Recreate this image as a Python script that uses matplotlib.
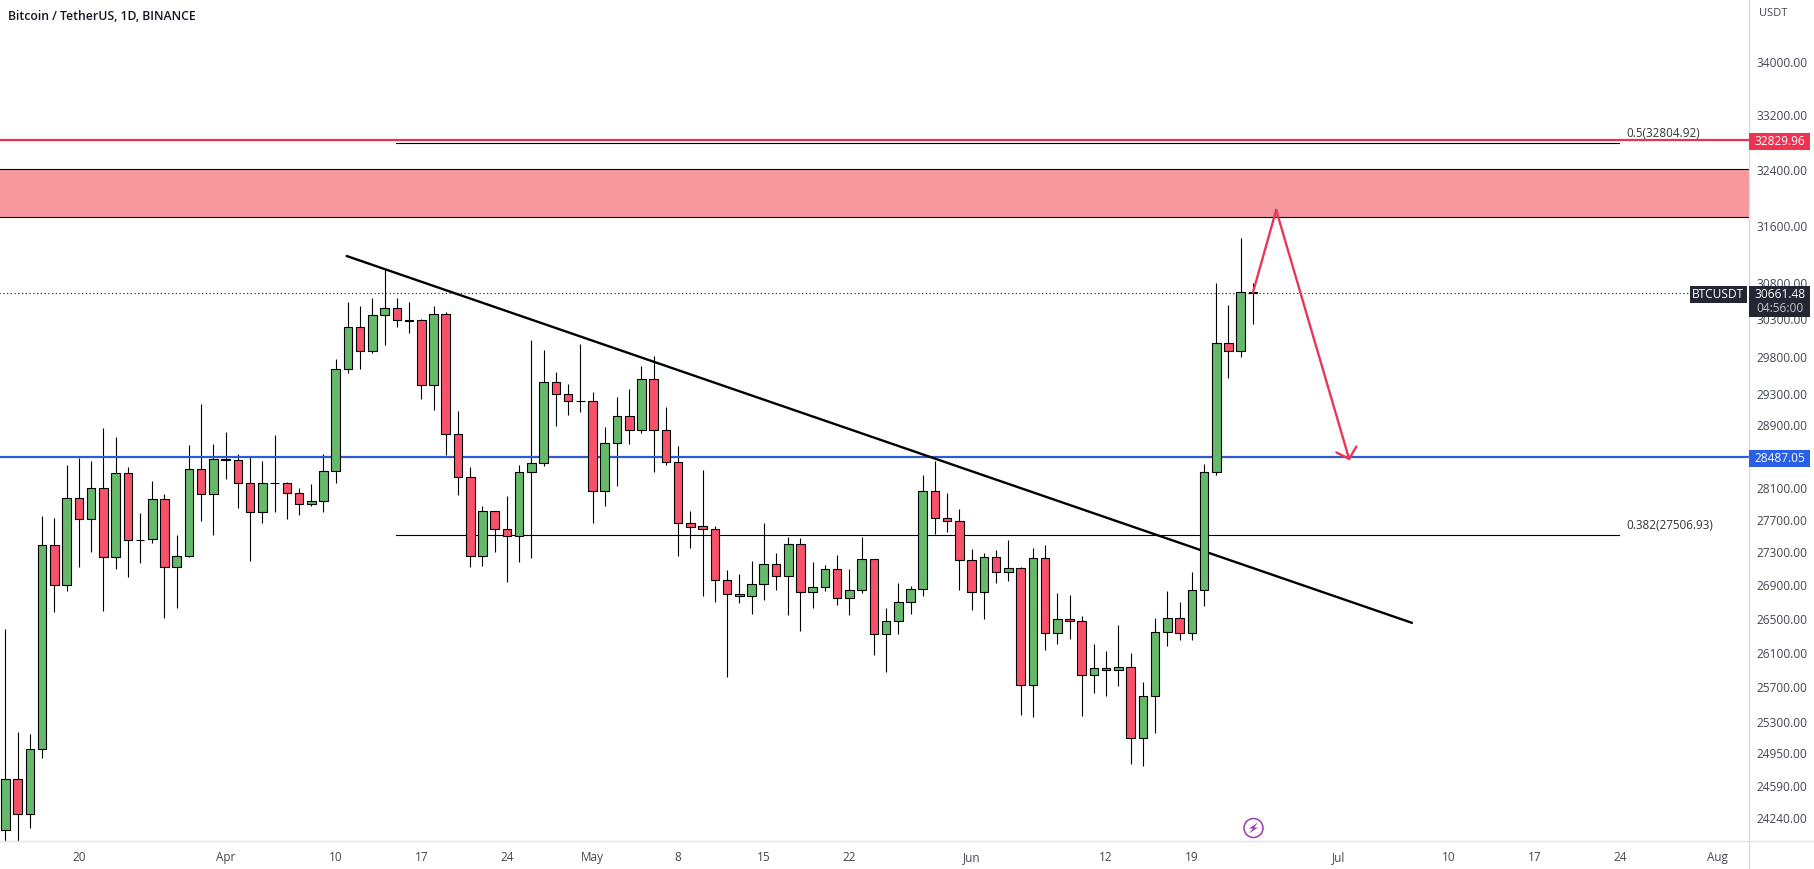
import numpy as np
import pandas as pd
import matplotlib
matplotlib.use("Agg")
import matplotlib.pyplot as plt
from matplotlib.patches import Circle, Polygon

plt.rcParams['font.family'] = ['Open Sans', 'DejaVu Sans']

W, H = 1815, 869
PLOT_R, PLOT_B = 1749, 841

start_date = '2023-03-14'

# daily candles, one value per day from start_date
opens = [24108, 24665, 24281, 24999, 27388, 26902, 27970, 27709, 28096, 27241,
         28285, 27456, 27461, 27958, 27120, 27254, 28336, 28021, 28462, 28450,
         28159, 27796, 28159, 28159, 28033, 27896, 27933, 28310, 29632, 30194,
         29872, 30357, 30452, 30289, 30289, 29421, 30371, 28782, 28234, 27254,
         27808, 27585, 27498, 28298, 28412, 29460, 29302, 29218, 29218, 28058,
         28666, 29015, 28834, 29500, 28834, 28424, 27659, 27622, 27592, 26962,
         26794, 26766, 26910, 27156, 27018, 27400, 26815, 26874, 27096, 26746,
         26842, 27217, 26318, 26468, 26698, 26854, 28058, 27729, 27684, 27205,
         26818, 27241, 27059, 27108, 25725, 27229, 26330, 26496, 26472, 25840,
         25921, 25898, 25933, 25122, 25598, 26342, 26508, 26330, 26842, 28298,
         29980, 29872, 30668]
closes = [24665, 24281, 24999, 27388, 26902, 27970, 27709, 28096, 27241, 28285,
          27449, 27449, 27958, 27120, 27254, 28336, 28021, 28462, 28450, 28159,
          27796, 28159, 28155, 28033, 27896, 27933, 28310, 29632, 30194, 29872,
          30357, 30452, 30289, 30285, 29421, 30371, 28782, 28234, 27254, 27808,
          27585, 27498, 28298, 28412, 29460, 29302, 29218, 29214, 28058, 28666,
          29015, 28834, 29500, 28834, 28424, 27659, 27617, 27592, 26962, 26790,
          26766, 26915, 27156, 27018, 27400, 26815, 26878, 27096, 26746, 26842,
          27217, 26318, 26472, 26698, 26854, 28058, 27729, 27684, 27205, 26818,
          27241, 27059, 27108, 25725, 27229, 26330, 26496, 26468, 25840, 25921,
          25898, 25933, 25122, 25598, 26342, 26508, 26330, 26842, 28298, 29980,
          29872, 30668, 30661.48]
highs = [26381, 25193, 25167, 27750, 27721, 28390, 28475, 28441, 28864, 28751,
         28361, 27783, 28184, 28021, 27514, 28645, 29175, 28657, 28812, 28526,
         28496, 28437, 28773, 28171, 28096, 28150, 28530, 29765, 30538, 30484,
         30589, 30988, 30589, 30538, 30302, 30484, 30402, 29080, 28361, 27874,
         27810, 27999, 28390, 30023, 29889, 29593, 29438, 29969, 29329, 28876,
         29263, 29368, 29676, 29809, 29136, 28628, 27812, 28327, 27626, 27087,
         27039, 27196, 27666, 27294, 27493, 27474, 27184, 27148, 27269, 27100,
         27493, 27217, 26631, 26930, 26890, 28264, 28445, 28041, 27833, 27343,
         27290, 27330, 27453, 27120, 27355, 27392, 26810, 26786, 26535, 26205,
         26115, 26429, 26103, 25763, 26508, 26834, 26702, 27059, 28399, 30800,
         30496, 31428, 30800]
lows = [23993, 23993, 24126, 24894, 26575, 26826, 27127, 27310, 26598, 27103,
        27006, 27164, 27419, 26512, 26634, 27240, 27687, 27518, 28217, 27849,
        27200, 27666, 27803, 27713, 27766, 27866, 27803, 28166, 29587, 29640,
        29853, 29956, 30203, 30122, 29244, 29097, 28521, 28012, 27127, 27136,
        27310, 26942, 27184, 27233, 28381, 28893, 29032, 29071, 27666, 27874,
        28117, 28657, 28803, 28305, 28394, 27257, 27355, 26774, 26702, 25813,
        26690, 26559, 26726, 26846, 26547, 26361, 26634, 26826, 26666, 26539,
        26802, 26078, 25871, 26325, 26551, 26766, 27527, 27555, 26838, 26607,
        26500, 26922, 26958, 25388, 25355, 26127, 26208, 26267, 25366, 25636,
        25605, 25717, 24827, 24805, 25174, 26181, 26255, 26255, 26658, 28256,
        29522, 29797, 30244]

y_ticks = [34000, 33200, 32400, 31600, 30800, 30300, 29800, 29300, 28900, 28100,
           27700, 27300, 26900, 26500, 26100, 25700, 25300, 24950, 24590, 24240]
x_tick_dates = ['2023-03-20', '2023-04-01', '2023-04-10', '2023-04-17', '2023-04-24',
                '2023-05-01', '2023-05-08', '2023-05-15', '2023-05-22', '2023-06-01',
                '2023-06-12', '2023-06-19', '2023-07-01', '2023-07-10', '2023-07-17',
                '2023-07-24', '2023-08-01']
x_tick_labels = ['20', 'Apr', '10', '17', '24', 'May', '8', '15', '22', 'Jun',
                 '12', '19', 'Jul', '10', '17', '24', 'Aug']

last_price = 30661.48
red_level = 32829.96
blue_level = 28487.05
fib_levels = [32790, 27506.93]
fib_labels = ['0.5(32804.92)', '0.382(27506.93)']
zone_low, zone_high = 31718, 32406
fib_start_x = 31.9
fib_stop_x = 131.9

trend_x = [27.9, 115.0]
trend_y = [31172, 26452]
path_x = [102, 103.9, 109.9]
path_y = [30668, 31820, 28447]


def day_index(dates):
    return (pd.to_datetime(dates) - pd.Timestamp(start_date)).days.to_numpy()


opens = np.array(opens, dtype=float)
closes = np.array(closes, dtype=float)
highs = np.array(highs, dtype=float)
lows = np.array(lows, dtype=float)
x = np.arange(len(opens))

fig = plt.figure(figsize=(W / 100, H / 100), dpi=100, facecolor='white')
ax = fig.add_axes([0, (H - PLOT_B) / H, PLOT_R / W, PLOT_B / H])
ax.set_xlim(-5.5 / 12.23, (PLOT_R - 5.5) / 12.23)
ax.set_yscale('log')
ax.set_ylim(23991, 34957)

up = closes >= opens
green, red = '#66b96a', '#f8526a'
ax.vlines(x, lows, highs, color='black', lw=0.8, zorder=1)
ax.bar(x, np.maximum(np.abs(closes - opens), 1), bottom=np.minimum(opens, closes), width=0.7,
       color=np.where(up, green, red), edgecolor='black', lw=0.8, zorder=3)

# levels and drawings
ax.axhspan(zone_low, zone_high, facecolor='#f7989f', edgecolor='none', zorder=1)
ax.axhline(zone_low, color='black', lw=0.8, zorder=1)
ax.axhline(zone_high, color='black', lw=0.8, zorder=1)
ax.axhline(red_level, color='#e8324f', lw=1.6, zorder=2)
ax.axhline(blue_level, color='#2f5bd0', lw=1.6, zorder=2)
ax.plot([-1, 137.6], [last_price, last_price], color='#333333', lw=0.9, ls=(0, (1, 2)), zorder=1)
for lv, label in zip(fib_levels, fib_labels):
    ax.plot([fib_start_x, fib_stop_x], [lv, lv], color='black', lw=0.8, zorder=2)
    ax.annotate(label, (fib_stop_x, lv), xytext=(5.8, 7), textcoords='offset points',
                fontsize=8.4, color='#333333', va='center', ha='left', zorder=5)
ax.plot(trend_x, trend_y, color='black', lw=1.7, solid_capstyle='round', zorder=2)

ax.plot(path_x[:2], path_y[:2], color='#e8375a', lw=1.7, zorder=4)
ax.annotate('', xy=(path_x[2], path_y[2]), xytext=(path_x[1], path_y[1]),
            arrowprops=dict(arrowstyle='->,head_length=0.7,head_width=0.75', color='#e8375a',
                            lw=1.7, shrinkA=0, shrinkB=0), zorder=4)

# axes
ax.minorticks_off()
ax.yaxis.tick_right()
ax.set_yticks(y_ticks)
ax.set_yticklabels(['%.2f' % v for v in y_ticks], fontsize=8.6, color='#434651')
ax.tick_params(axis='y', which='both', length=0, pad=5.5)
ax.tick_params(axis='y', which='minor', labelright=False)
ax.set_xticks(day_index(x_tick_dates))
ax.set_xticklabels(x_tick_labels, fontsize=8.5, color='#434651')
ax.tick_params(axis='x', length=0, pad=7)
for s in ['top', 'left', 'right', 'bottom']:
    ax.spines[s].set_visible(False)

# frame lines run past the plot area
fig.add_artist(plt.Line2D([PLOT_R / W, PLOT_R / W], [0, 1], color='#d9dbe0', lw=1.0))
fig.add_artist(plt.Line2D([0, 1], [(H - PLOT_B) / H, (H - PLOT_B) / H], color='#e0e2e6', lw=1.0))

fig.text(8 / W, 1 - 16.5 / H, 'Bitcoin / TetherUS, 1D, BINANCE', fontsize=8.8, fontweight='semibold',
         color='#131722', va='center', ha='left')
fig.text(1759 / W, 1 - 14 / H, 'USDT', fontsize=8.0, color='#434651', va='center', ha='left')


def price_tag(x0, x1, y0, y1, color):
    fig.add_artist(plt.Rectangle((x0 / W, 1 - y1 / H), (x1 - x0) / W, (y1 - y0) / H,
                                 transform=fig.transFigure, facecolor=color, edgecolor='none', zorder=6))


def tag_text(xc, y, s, color):
    fig.text(xc / W, 1 - y / H, s, fontsize=8.6, color=color, ha='center', va='center', zorder=7)


price_tag(1749, 1810, 133, 150, '#ee3350')
tag_text(1780, 141.5, '32829.96', 'white')
price_tag(1749, 1810, 450, 467, '#2a5fe8')
tag_text(1780, 458.5, '28487.05', 'white')
price_tag(1690, 1747, 286, 303, '#232733')
tag_text(1718, 294.5, 'BTCUSDT', 'white')
price_tag(1749, 1810, 286, 317, '#232733')
tag_text(1780, 294.5, '30661.48', 'white')
tag_text(1780, 308.5, '04:56:00', '#c3c6ce')

# lightning badge on the bottom axis
badge_x, badge_y = 1253.5, 828
fig.add_artist(Circle((badge_x, H - badge_y), 9.5, transform=None, facecolor='white',
                      edgecolor='#9c3bb0', lw=1.1, zorder=6))
bolt = np.array([[4.5, 5.5], [-4.5, -0.5], [-0.5, -0.5], [-4.5, -5.5], [4.5, 0.5], [0.5, 0.5]])
fig.add_artist(Polygon(np.c_[badge_x + bolt[:, 0], H - badge_y + bolt[:, 1]], transform=None,
                       facecolor='#9c3bb0', edgecolor='none', zorder=7))

fig.savefig('out.png', dpi=100)
